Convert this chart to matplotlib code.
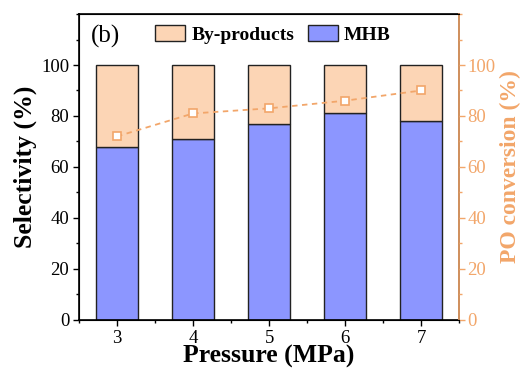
import numpy as np
import matplotlib.pyplot as plt
from matplotlib.ticker import MultipleLocator

plt.rcParams['font.family'] = ['Liberation Serif', 'DejaVu Serif']

pressure = [3, 4, 5, 6, 7]
mhb = [68, 71, 77, 81, 78]
byproducts = [100 - v for v in mhb]
conversion = [72, 81, 83, 86, 90]

blue = "#8c96ff"
peach = "#fcd5b5"
orange = "#f2a66a"

fig, ax = plt.subplots(figsize=(5.2, 3.69), dpi=100)
fig.subplots_adjust(left=0.152, right=0.883, top=0.962, bottom=0.133)

ax.bar(pressure, mhb, width=0.55, color=blue, edgecolor="#222222", linewidth=1, label="MHB", zorder=2)
ax.bar(pressure, byproducts, bottom=mhb, width=0.55, color=peach, edgecolor="#222222",
       linewidth=1, label="By-products", zorder=2)

ax.set_xlim(2.5, 7.5)
ax.set_ylim(0, 120)
ax.set_xticks(pressure)
ax.xaxis.set_minor_locator(MultipleLocator(0.5))
ax.set_yticks([0, 20, 40, 60, 80, 100])
ax.yaxis.set_minor_locator(MultipleLocator(10))
ax.tick_params(axis="both", which="major", labelsize=13.5, length=4, width=1, pad=3)
ax.tick_params(axis="both", which="minor", length=2.5, width=1)
ax.set_xlabel("Pressure (MPa)", fontsize=18.5, fontweight="bold", labelpad=-1)
ax.set_ylabel("Selectivity (%)", fontsize=18.5, fontweight="bold", labelpad=3)
for s in ax.spines.values():
    s.set_linewidth(1.2)

ax2 = ax.twinx()
ax2.plot(pressure, conversion, linestyle=(0, (3, 2.5)), color=orange, marker="s", markersize=5.5,
         markerfacecolor="white", markeredgecolor=orange, markeredgewidth=1.2, linewidth=1.3, zorder=3)
ax2.set_ylim(0, 120)
ax2.set_yticks([0, 20, 40, 60, 80, 100])
ax2.yaxis.set_minor_locator(MultipleLocator(10))
ax2.tick_params(axis="y", which="major", labelsize=13.5, length=4, width=1, colors=orange, pad=2)
ax2.tick_params(axis="y", which="minor", length=2.5, width=1, colors=orange)
ax2.spines["right"].set_color(orange)
ax2.spines["right"].set_linewidth(1.2)
ax2.set_ylabel("PO conversion (%)", fontsize=17, fontweight="bold", color=orange, labelpad=3)

handles, labels = ax.get_legend_handles_labels()
ax.legend(handles[::-1], labels[::-1], loc="upper center", bbox_to_anchor=(0.51, 1.02), ncol=2,
          frameon=False, prop={"weight": "bold", "size": 14}, handlelength=1.55, handleheight=0.85,
          columnspacing=0.7, handletextpad=0.3)
ax.text(0.03, 0.965, "(b)", transform=ax.transAxes, fontsize=18, va="top", ha="left")

fig.savefig("out.png", dpi=100)
